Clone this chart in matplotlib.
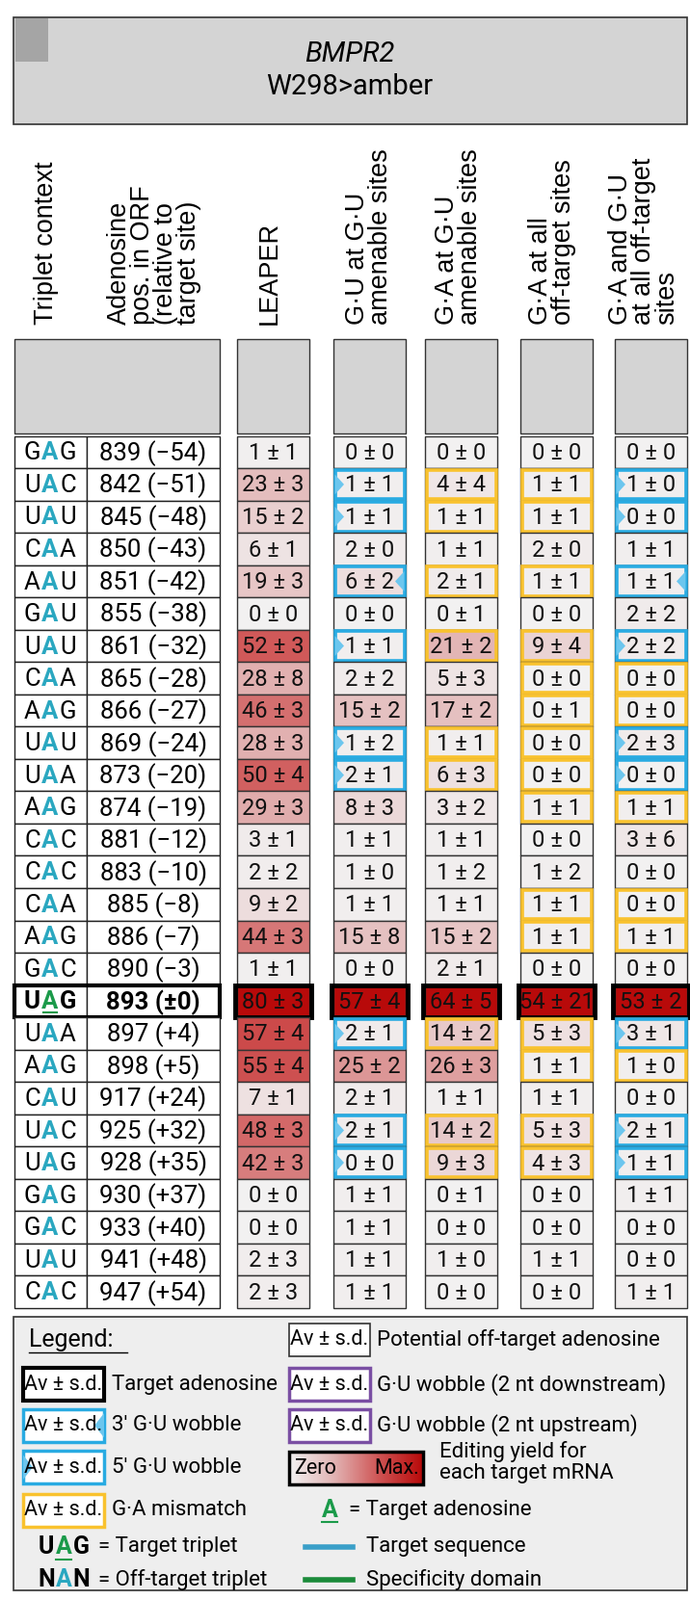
import numpy as np
import matplotlib
matplotlib.use("Agg")
import matplotlib.pyplot as plt
from matplotlib.patches import Rectangle, Polygon
from matplotlib.colors import LinearSegmentedColormap

# ---- data ----
triplets = ["GAG", "UAC", "UAU", "CAA", "AAU", "GAU", "UAU", "CAA", "AAG", "UAU", "UAA", "AAG", "CAC",
            "CAC", "CAA", "AAG", "GAC", "UAG", "UAA", "AAG", "CAU", "UAC", "UAG", "GAG", "GAC", "UAU", "CAC"]
positions = ["839 (\u221254)", "842 (\u221251)", "845 (\u221248)", "850 (\u221243)", "851 (\u221242)",
             "855 (\u221238)", "861 (\u221232)", "865 (\u221228)", "866 (\u221227)", "869 (\u221224)",
             "873 (\u221220)", "874 (\u221219)", "881 (\u221212)", "883 (\u221210)", "885 (\u22128)",
             "886 (\u22127)", "890 (\u22123)", "893 (\u00b10)", "897 (+4)", "898 (+5)", "917 (+24)",
             "925 (+32)", "928 (+35)", "930 (+37)", "933 (+40)", "941 (+48)", "947 (+54)"]
target_row = 17

col_titles = ["LEAPER", "G\u00b7U at G\u00b7U\namenable sites", "G\u00b7A at G\u00b7U\namenable sites",
              "G\u00b7A at all\noff-target sites", "G\u00b7A and G\u00b7U\nat all off-target\nsites"]

leaper_av = [1, 23, 15, 6, 19, 0, 52, 28, 46, 28, 50, 29, 3, 2, 9, 44, 1, 80, 57, 55, 7, 48, 42, 0, 0, 2, 2]
leaper_sd = [1, 3, 2, 1, 3, 0, 3, 8, 3, 3, 4, 3, 1, 2, 2, 3, 1, 3, 4, 4, 1, 3, 3, 0, 0, 3, 3]
gu_gu_av = [0, 1, 1, 2, 6, 0, 1, 2, 15, 1, 2, 8, 1, 1, 1, 15, 0, 57, 2, 25, 2, 2, 0, 1, 1, 1, 1]
gu_gu_sd = [0, 1, 1, 0, 2, 0, 1, 2, 2, 2, 1, 3, 1, 0, 1, 8, 0, 4, 1, 2, 1, 1, 0, 1, 1, 1, 1]
ga_gu_av = [0, 4, 1, 1, 2, 0, 21, 5, 17, 1, 6, 3, 1, 1, 1, 15, 2, 64, 14, 26, 1, 14, 9, 0, 0, 1, 0]
ga_gu_sd = [0, 4, 1, 1, 1, 1, 2, 3, 2, 1, 3, 2, 1, 2, 1, 2, 1, 5, 2, 3, 1, 2, 3, 1, 0, 0, 0]
ga_all_av = [0, 1, 1, 2, 1, 0, 9, 0, 0, 0, 0, 1, 0, 1, 1, 1, 0, 54, 5, 1, 1, 5, 4, 0, 0, 1, 0]
ga_all_sd = [0, 1, 1, 0, 1, 0, 4, 0, 1, 0, 0, 1, 0, 2, 1, 1, 0, 21, 3, 1, 1, 3, 3, 0, 0, 1, 0]
gagu_all_av = [0, 1, 0, 1, 1, 2, 2, 0, 0, 2, 0, 1, 3, 0, 0, 1, 0, 53, 3, 1, 0, 2, 1, 1, 0, 0, 1]
gagu_all_sd = [0, 0, 0, 1, 1, 2, 2, 0, 0, 3, 0, 1, 6, 0, 0, 1, 0, 2, 1, 0, 0, 1, 1, 1, 0, 0, 1]

# border marks: L = 5' G.U wobble, R = 3' G.U wobble, Y = G.A mismatch
marks_leaper = "---------------------------"
marks_gu_gu = "-LL-R-L--LL-------L--LL----"
marks_ga_gu = "-YY-Y-Y--YY-------Y--YY----"
marks_ga_all = "-YY-Y-YYYYYY--YY--YY-YY----"
marks_gagu_all = "-LL-R-LYYLLY--YY--LY-LL----"

av_cols = [leaper_av, gu_gu_av, ga_gu_av, ga_all_av, gagu_all_av]
sd_cols = [leaper_sd, gu_gu_sd, ga_gu_sd, ga_all_sd, gagu_all_sd]
mark_cols = [marks_leaper, marks_gu_gu, marks_ga_gu, marks_ga_all, marks_gagu_all]

# ---- style ----
BLUE = "#29abe2"
YELLOW = "#f9c22e"
PURPLE = "#7a4fa3"
GREEN = "#1b9a4a"
TEAL = "#2aa7c0"
GREY = "#d4d4d4"
cmap = LinearSegmentedColormap.from_list("yield", ["#f2f1f1", "#e2b4b4", "#cf5555", "#b80a0a"])
FONT = "Roboto"
HFONT = "Liberation Sans"

fig = plt.figure(figsize=(7.16, 16.61), dpi=100)
ax = fig.add_axes([0, 0, 1, 1])
ax.set_xlim(0, 716)
ax.set_ylim(1567, 0)
ax.axis("off")

# title box
ax.add_patch(Rectangle((14, 17), 699, 105, fc=GREY, ec="#333333", lw=1.2))
ax.add_patch(Rectangle((16, 18), 34, 42, fc="#a5a5a5", ec="none"))
ax.text(363, 53, "BMPR2", ha="center", va="center", fontsize=21, style="italic", family=FONT)
ax.text(363, 85, "W298>amber", ha="center", va="center", fontsize=21, family=FONT)

# column headers
ax.text(48, 318, "Triplet context", rotation=90, ha="center", va="bottom", fontsize=19.5, family=HFONT)
ax.text(160, 318, "Adenosine\npos. in ORF\n(relative to\ntarget site)", rotation=90, ha="center",
        va="bottom", fontsize=19.5, family=HFONT, linespacing=0.9, multialignment="left")
col_x = [246, 346, 441, 540, 638]
head_x = [280, 383, 476, 573, 668]
col_w = 75
for hx, t in zip(head_x, col_titles):
    ax.text(hx, 318, t, rotation=90, ha="center", va="bottom", fontsize=19.5,
            family=HFONT, linespacing=0.9, multialignment="left")

# grey header boxes
top, rh = 332, 31.63
ax.add_patch(Rectangle((15, top), 213, 93, fc=GREY, ec="#333333", lw=1))
for x0 in col_x:
    ax.add_patch(Rectangle((x0, top), col_w, 93, fc=GREY, ec="#333333", lw=1))

y0 = 427
for i, (tri, pos) in enumerate(zip(triplets, positions)):
    y = y0 + i * rh
    yc = y + rh / 2
    is_t = i == target_row
    wt = "bold" if is_t else "normal"
    ax.add_patch(Rectangle((15, y), 75, rh, fc="white", ec="#222222", lw=1))
    ax.add_patch(Rectangle((90, y), 138, rh, fc="white", ec="#222222", lw=1))
    for k, ch in enumerate(tri):
        c = (GREEN if is_t else TEAL) if k == 1 else "black"
        ax.text(52 + (k - 1) * 18.5, yc + 1, ch, ha="center", va="center", fontsize=18.5, color=c,
                family=FONT, weight="bold" if (is_t or k == 1) else "normal")
    if is_t:
        ax.plot([45, 59], [yc + 11, yc + 11], color=GREEN, lw=1.5)
    ax.text(159, yc + 1, pos, ha="center", va="center", fontsize=18.5, family=FONT, weight=wt)

    for j, x0 in enumerate(col_x):
        av, sd, mk = av_cols[j][i], sd_cols[j][i], mark_cols[j][i]
        mx = max(av_cols[j])
        ax.add_patch(Rectangle((x0, y), col_w, rh, fc=cmap(av / mx), ec="#333333", lw=1))
        ax.text(x0 + col_w / 2, yc + 1, f"{av} \u00b1 {sd}", ha="center", va="center", fontsize=17,
                family=FONT, color="#111111")
        if mk in "LR":
            ax.add_patch(Rectangle((x0 + 1.5, y + 1.5), col_w - 3, rh - 3, fc="none", ec=BLUE, lw=2.6))
            if mk == "L":
                tri_pts = [(x0 + 1.5, y + 6), (x0 + 11, yc), (x0 + 1.5, y + rh - 6)]
            else:
                tri_pts = [(x0 + col_w - 1.5, y + 6), (x0 + col_w - 11, yc), (x0 + col_w - 1.5, y + rh - 6)]
            ax.add_patch(Polygon(tri_pts, closed=True, fc="#6cc6ee", ec="none"))
        elif mk == "Y":
            ax.add_patch(Rectangle((x0 + 1.5, y + 1.5), col_w - 3, rh - 3, fc="none", ec=YELLOW, lw=2.6))
    if is_t:
        ax.add_patch(Rectangle((15, y), 213, rh, fc="none", ec="black", lw=3))
        for x0 in col_x:
            ax.add_patch(Rectangle((x0 - 2, y), col_w + 4, rh, fc="none", ec="black", lw=3.5))

# ---- legend ----
ax.add_patch(Rectangle((14, 1290), 699, 268, fc="#eeeeee", ec="#333333", lw=1.2))
ax.text(30, 1312, "Legend:", fontsize=18, family=FONT, va="center")
ax.plot([30, 132], [1325, 1325], color="black", lw=1)


def av_box(x, y, ec, lw, tri=None):
    ax.add_patch(Rectangle((x, y - 16), 84, 32, fc="white", ec=ec, lw=lw))
    if tri == "R":
        ax.add_patch(Polygon([(x + 84, y - 12), (x + 74, y), (x + 84, y + 12)], fc="#6cc6ee", ec="none"))
    if tri == "L":
        ax.add_patch(Polygon([(x, y - 12), (x + 10, y), (x, y + 12)], fc="#6cc6ee", ec="none"))
    ax.text(x + 42, y, "Av \u00b1 s.d.", ha="center", va="center", fontsize=15.5, family=FONT)


left_items = [(1356, "black", 3, None, "Target adenosine"), (1396, BLUE, 2.5, "R", "3' G\u00b7U wobble"),
              (1437, BLUE, 2.5, "L", "5' G\u00b7U wobble"), (1479, YELLOW, 2.5, None, "G\u00b7A mismatch")]
for y, ec, lw, tr, lab in left_items:
    av_box(24, y, ec, lw, tr)
    ax.text(116, y, lab, va="center", fontsize=16, family=FONT)
right_items = [(1312, "#333333", 1.2, "Potential off-target adenosine"),
               (1356, PURPLE, 2.5, "G\u00b7U wobble (2 nt downstream)"),
               (1396, PURPLE, 2.5, "G\u00b7U wobble (2 nt upstream)")]
for y, ec, lw, lab in right_items:
    av_box(300, y, ec, lw)
    ax.text(391, y, lab, va="center", fontsize=16, family=FONT)

# gradient box
grad = np.linspace(0, 1, 200).reshape(1, -1)
ax.imshow(grad, cmap=cmap, extent=(300, 439, 1454, 1422), aspect="auto", zorder=2)
ax.add_patch(Rectangle((300, 1422), 139, 32, fc="none", ec="black", lw=2.5, zorder=3))
ax.text(305, 1438, "Zero", va="center", fontsize=15.5, family=FONT, zorder=4)
ax.text(435, 1438, "Max.", va="center", ha="right", fontsize=15.5, family=FONT, zorder=4)
ax.text(456, 1432, "Editing yield for\neach target mRNA", va="center", fontsize=16, family=FONT,
        linespacing=1.05)

ax.text(342, 1479, "A", va="center", ha="center", fontsize=18, weight="bold", color=GREEN, family=FONT)
ax.plot([334, 350], [1491, 1491], color=GREEN, lw=1.5)
ax.text(362, 1479, "= Target adenosine", va="center", fontsize=16, family=FONT)

for k, ch in enumerate("UAG"):
    ax.text(66 + (k - 1) * 18, 1515, ch, ha="center", va="center", fontsize=18, weight="bold",
            color=GREEN if k == 1 else "black", family=FONT)
ax.plot([58, 74], [1527, 1527], color=GREEN, lw=1.5)
ax.text(102, 1515, "= Target triplet", va="center", fontsize=16, family=FONT)
for k, ch in enumerate("NAN"):
    ax.text(66 + (k - 1) * 18, 1547, ch, ha="center", va="center", fontsize=18, weight="bold",
            color=TEAL if k == 1 else "black", family=FONT)
ax.text(102, 1547, "= Off-target triplet", va="center", fontsize=16, family=FONT)

ax.plot([317, 366], [1515, 1515], color="#3a9fc8", lw=4)
ax.text(380, 1515, "Target sequence", va="center", fontsize=16, family=FONT)
ax.plot([317, 366], [1547, 1547], color="#1b8a3a", lw=4)
ax.text(380, 1547, "Specificity domain", va="center", fontsize=16, family=FONT)

fig.savefig("out.png", dpi=100)
